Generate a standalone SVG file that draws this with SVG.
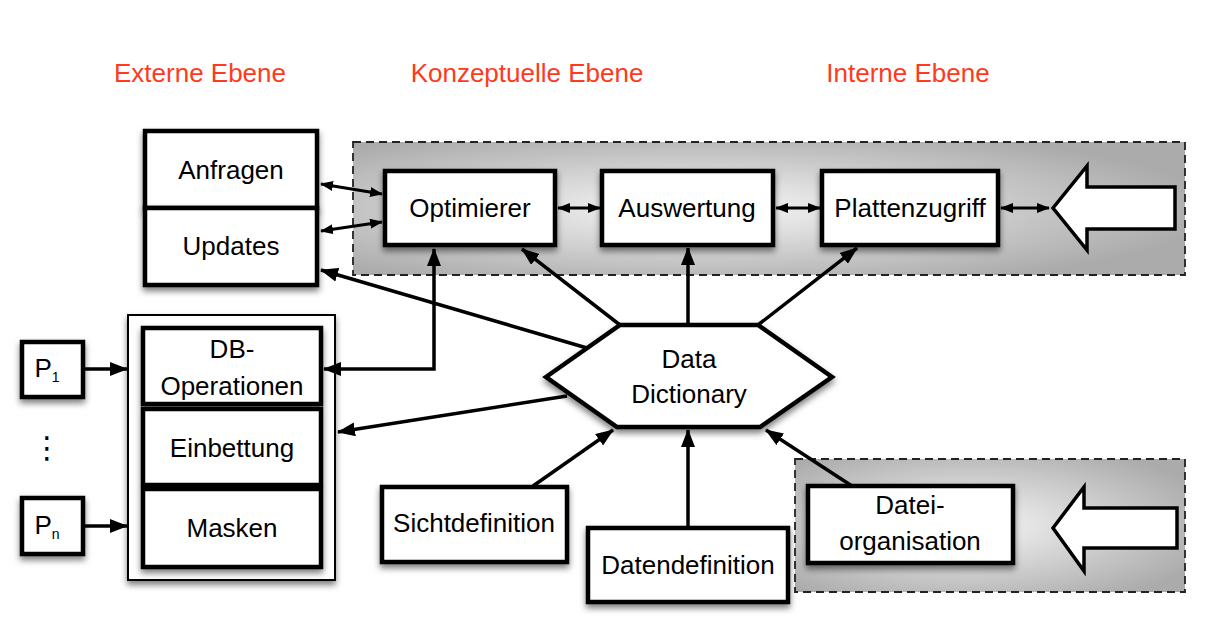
<svg xmlns="http://www.w3.org/2000/svg" width="1224" height="641" viewBox="0 0 1224 641">
<defs>
<radialGradient id="g1" cx="0.42" cy="0.5" r="0.62" gradientUnits="objectBoundingBox">
<stop offset="0" stop-color="#f6f6f6"/>
<stop offset="1" stop-color="#ababab"/>
</radialGradient>
<radialGradient id="g2" cx="0.45" cy="0.5" r="0.65">
<stop offset="0" stop-color="#f6f6f6"/>
<stop offset="1" stop-color="#ababab"/>
</radialGradient>
<filter id="sh" x="-20%" y="-20%" width="140%" height="150%">
<feDropShadow dx="0" dy="4" stdDeviation="3" flood-color="#000" flood-opacity="0.5"/>
</filter>
<marker id="ah" markerUnits="userSpaceOnUse" viewBox="0 0 18 14" refX="17" refY="7" markerWidth="18" markerHeight="14" orient="auto-start-reverse">
<path d="M0,0 L18,7 L0,14 z" fill="#000"/>
</marker>
<marker id="sa" markerUnits="userSpaceOnUse" viewBox="0 0 13 10" refX="12" refY="5" markerWidth="13" markerHeight="10" orient="auto-start-reverse">
<path d="M0,0 L13,5 L0,10 z" fill="#000"/>
</marker>
<style>
.t{font-family:"Liberation Sans",Arial,sans-serif;font-size:26px;fill:#000;text-anchor:middle}
.h{font-family:"Liberation Sans",Arial,sans-serif;font-size:26px;fill:#ff3a1c;text-anchor:middle}
.b{fill:#fff;stroke:#000;stroke-width:4.5;filter:url(#sh)}
.p{stroke:#222;stroke-width:1.8;stroke-dasharray:8,5}
.c{stroke:#000;stroke-width:3.5;fill:none}
.d{stroke:#000;stroke-width:3;fill:none}
.ha{fill:#fff;stroke:#000;stroke-width:3.5;stroke-linejoin:miter}
</style>
</defs>
<rect width="1224" height="641" fill="#fff"/>

<g id="titles">
<text class="h" x="200" y="82">Externe Ebene</text>
<text class="h" x="527" y="82">Konzeptuelle Ebene</text>
<text class="h" x="908" y="82">Interne Ebene</text>
</g>

<g id="panel-top">
<rect class="p" x="353" y="142" width="832" height="133" fill="url(#g1)"/>
<path class="ha" d="M1053,208 L1087,166 L1087,187 L1175,187 L1175,229 L1087,229 L1087,250 z"/>
</g>
<g id="panel-bottom">
<rect class="p" x="795" y="459" width="390" height="133" fill="url(#g2)"/>
<path class="ha" d="M1053,528 L1084,487 L1084,508 L1177,508 L1177,548 L1084,548 L1084,571 z"/>
</g>

<g id="anfragen"><rect class="b" x="145" y="131" width="172" height="77"/><text class="t" x="231" y="179">Anfragen</text></g>
<g id="updates"><rect class="b" x="145" y="208" width="172" height="77"/><text class="t" x="231" y="255">Updates</text></g>

<g id="optimierer"><rect class="b" x="385" y="171" width="170" height="74"/><text class="t" x="470" y="217">Optimierer</text></g>
<g id="auswertung"><rect class="b" x="602" y="171" width="171" height="74"/><text class="t" x="687" y="217">Auswertung</text></g>
<g id="plattenzugriff"><rect class="b" x="822" y="171" width="176" height="74"/><text class="t" x="910" y="217">Plattenzugriff</text></g>

<g id="container"><rect x="128" y="315" width="207" height="265" fill="#fff" stroke="#000" stroke-width="2" filter="url(#sh)"/></g>
<g id="dboperationen"><rect class="b" x="143" y="328" width="178" height="76"/><text class="t" x="232" y="358">DB-</text><text class="t" x="232" y="395">Operationen</text></g>
<g id="einbettung"><rect class="b" x="143" y="409" width="178" height="76"/><text class="t" x="232" y="457">Einbettung</text></g>
<g id="masken"><rect class="b" x="143" y="489" width="178" height="78"/><text class="t" x="232" y="537">Masken</text></g>

<g id="p1"><rect class="b" x="22" y="342" width="61" height="55"/><text class="t" x="47" y="377">P<tspan font-size="14" dy="5">1</tspan></text></g>
<g id="pn"><rect class="b" x="22" y="498" width="61" height="56"/><text class="t" x="47" y="534">P<tspan font-size="14" dy="5">n</tspan></text></g>
<g id="dots"><text x="47" y="458" font-family="DejaVu Sans,sans-serif" font-size="30" text-anchor="middle">⋮</text></g>

<g id="datadictionary"><path d="M546,377 L620,325 L758,325 L832,377 L760,427 L617,427 z" fill="#fff" stroke="#000" stroke-width="4.5" stroke-linejoin="miter" filter="url(#sh)"/>
<text class="t" x="689" y="368">Data</text><text class="t" x="689" y="403">Dictionary</text></g>

<g id="sichtdefinition"><rect class="b" x="382" y="487" width="185" height="75"/><text class="t" x="474" y="532">Sichtdefinition</text></g>
<g id="datendefinition"><rect class="b" x="588" y="528" width="200" height="74"/><text class="t" x="688" y="574">Datendefinition</text></g>
<g id="dateiorganisation"><rect class="b" x="808" y="486" width="205" height="77"/><text class="t" x="910" y="514">Datei-</text><text class="t" x="910" y="550">organisation</text></g>

<g id="connectors">
<line class="d" x1="321" y1="184" x2="382" y2="194" marker-start="url(#sa)" marker-end="url(#sa)"/>
<line class="d" x1="321" y1="231" x2="382" y2="222" marker-start="url(#sa)" marker-end="url(#sa)"/>
<line class="d" x1="558" y1="208" x2="600" y2="208" marker-start="url(#sa)" marker-end="url(#sa)"/>
<line class="d" x1="776" y1="208" x2="820" y2="208" marker-start="url(#sa)" marker-end="url(#sa)"/>
<line class="d" x1="1001" y1="208" x2="1049" y2="208" marker-start="url(#sa)" marker-end="url(#sa)"/>
<path class="c" d="M434,249 L434,369 L324,369" marker-start="url(#ah)" marker-end="url(#ah)"/>
<line class="c" x1="620" y1="325" x2="522" y2="249" marker-end="url(#ah)"/>
<line class="c" x1="688" y1="325" x2="688" y2="248" marker-end="url(#ah)"/>
<line class="c" x1="758" y1="325" x2="857" y2="248" marker-end="url(#ah)"/>
<line class="c" x1="587" y1="348" x2="321" y2="270" marker-end="url(#ah)"/>
<line class="c" x1="567" y1="396" x2="338" y2="432" marker-end="url(#ah)"/>
<line class="c" x1="533" y1="486" x2="613" y2="430" marker-end="url(#ah)"/>
<line class="c" x1="688" y1="527" x2="688" y2="430" marker-end="url(#ah)"/>
<line class="c" x1="852" y1="486" x2="766" y2="430" marker-end="url(#ah)"/>
<line class="c" x1="83" y1="369" x2="127" y2="369" marker-end="url(#ah)"/>
<line class="c" x1="83" y1="526" x2="127" y2="526" marker-end="url(#ah)"/>
</g>
</svg>
